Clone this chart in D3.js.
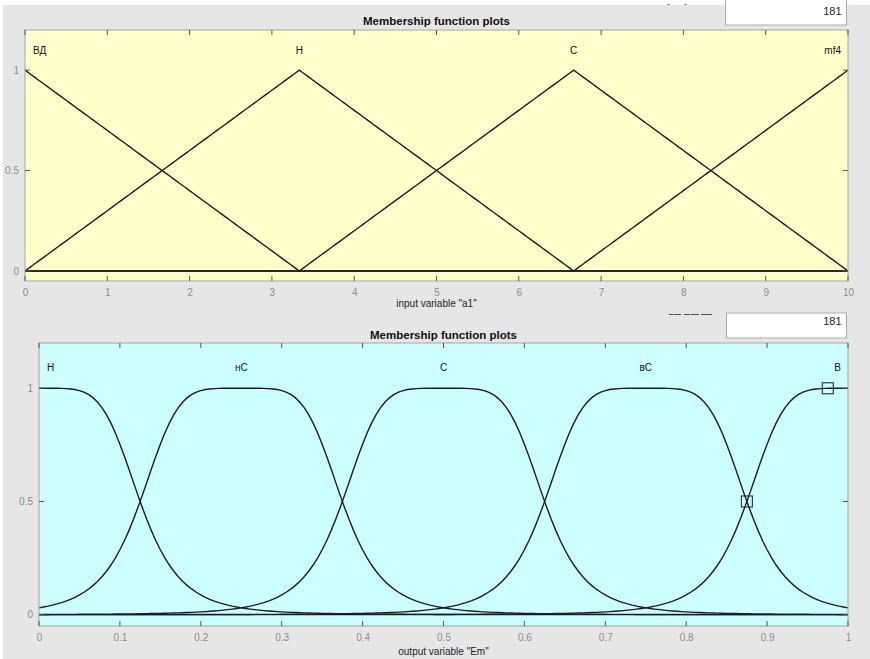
<!DOCTYPE html>
<html>
<head>
<meta charset="utf-8">
<script src="https://cdn.jsdelivr.net/npm/d3@7"></script>
<style>
html,body{margin:0;padding:0;background:#ffffff;}
svg{display:block;}
text{font-family:"Liberation Sans",Arial,Helvetica,sans-serif;}
</style>
</head>
<body>
<script>
// ---- data ----
const titleText = "Membership function plots";
const plotPoints = 181;
const yTicks = [0, 0.5, 1];
const yDomain = [-0.05, 1.2];

const inputLabel = 'input variable "a1"';
const inputRange = [0, 10];
const inputTicks = [0, 1, 2, 3, 4, 5, 6, 7, 8, 9, 10];
const inputMFNames = ["ВД", "Н", "С", "mf4"];
const inputMFParams = [[-3.333, 0, 3.333], [0, 3.333, 6.667], [3.333, 6.667, 10], [6.667, 10, 13.333]]; // trimf [a b c]

const outputLabel = 'output variable "Em"';
const outputRange = [0, 1];
const outputTicks = [0, 0.1, 0.2, 0.3, 0.4, 0.5, 0.6, 0.7, 0.8, 0.9, 1];
const outputMFNames = ["Н", "нС", "С", "вС", "В"];
const outputMFParams = [[0.125, 2.5, 0], [0.125, 2.5, 0.25], [0.125, 2.5, 0.5], [0.125, 2.5, 0.75], [0.125, 2.5, 1]]; // gbellmf [a b c]
const outputMarkers = [[0.975, 1], [0.875, 0.5]];

// ---- membership function definitions ----
function trimf(x, p) {
  const [a, b, c] = p;
  if (x <= a || x >= c) return 0;
  if (x <= b) return (x - a) / (b - a);
  return (c - x) / (c - b);
}
function gbellmf(x, p) {
  const [a, b, c] = p;
  return 1 / (1 + Math.pow(Math.abs((x - c) / a), 2 * b));
}

const W = 870, H = 659;
const svg = d3.select("body").append("svg").attr("width", W).attr("height", H);
svg.append("rect").attr("x", 0).attr("y", 0).attr("width", W).attr("height", H).attr("fill", "#ffffff");
svg.append("rect").attr("x", 3).attr("y", 5).attr("width", W - 3).attr("height", H - 5).attr("fill", "#e6e6e6");

function panel(cfg) {
  const g = svg.append("g");
  const x = d3.scaleLinear().domain(cfg.range).range([cfg.left, cfg.right]);
  const y = d3.scaleLinear().domain(yDomain).range([cfg.bottom, cfg.top]);

  // fragments of a hidden caption above the box (only the bottom edge shows)
  cfg.frags.forEach(f => {
    g.append("line").attr("x1", f[0]).attr("x2", f[1]).attr("y1", cfg.fragY).attr("y2", cfg.fragY)
      .attr("stroke", "#2a2a55").attr("stroke-width", 1).attr("opacity", 0.8);
  });
  // box widget "181"
  g.append("rect").attr("x", cfg.boxX).attr("y", cfg.boxY).attr("width", cfg.boxW).attr("height", cfg.boxH)
    .attr("fill", "#ffffff").attr("stroke", "#ababab").attr("stroke-width", 1);
  g.append("text").attr("x", cfg.boxX + cfg.boxW - 5).attr("y", cfg.boxTextY)
    .attr("text-anchor", "end").attr("font-size", 11).attr("fill", "#1a1a33").text(String(plotPoints));

  // title
  g.append("text").attr("x", (cfg.left + cfg.right) / 2).attr("y", cfg.titleY)
    .attr("text-anchor", "middle").attr("font-size", 11.5).attr("font-weight", "bold").attr("fill", "#111")
    .text(titleText);

  // plot background
  g.append("rect").attr("x", cfg.left).attr("y", cfg.top).attr("width", cfg.right - cfg.left)
    .attr("height", cfg.bottom - cfg.top).attr("fill", cfg.bg);

  // curves
  const xs = d3.range(plotPoints).map(i => cfg.range[0] + (cfg.range[1] - cfg.range[0]) * i / (plotPoints - 1));
  const line = d3.line().x(d => x(d[0])).y(d => y(d[1]));
  cfg.params.forEach(p => {
    const pts = xs.map(v => [v, cfg.fn(v, p)]);
    g.append("path").attr("d", line(pts)).attr("fill", "none")
      .attr("stroke", "#1c1c1c").attr("stroke-width", 1.4);
  });

  // markers
  (cfg.markers || []).forEach(m => {
    g.append("rect").attr("x", x(m[0]) - 5.5).attr("y", y(m[1]) - 5.5).attr("width", 11).attr("height", 11)
      .attr("fill", "none").attr("stroke", "#2a2a2a").attr("stroke-width", 1.1);
  });

  // MF labels
  cfg.names.forEach((n, i) => {
    const peak = cfg.peak(cfg.params[i]);
    let px = x(peak), anchor = "middle";
    if (peak <= cfg.range[0]) { px = cfg.left + 8; anchor = "start"; }
    else if (peak >= cfg.range[1]) { px = cfg.right - 7; anchor = "end"; }
    g.append("text").attr("x", px).attr("y", cfg.labelY).attr("text-anchor", anchor)
      .attr("font-size", 10).attr("fill", "#111").text(n);
  });

  // axes box
  g.append("rect").attr("x", cfg.left).attr("y", cfg.top).attr("width", cfg.right - cfg.left)
    .attr("height", cfg.bottom - cfg.top).attr("fill", "none").attr("stroke", "#a3a3a3").attr("stroke-width", 1);

  // x ticks (inward, top and bottom)
  cfg.ticks.forEach(t => {
    g.append("line").attr("x1", x(t)).attr("x2", x(t)).attr("y1", cfg.bottom).attr("y2", cfg.bottom - 5)
      .attr("stroke", "#555").attr("stroke-width", 1);
    g.append("line").attr("x1", x(t)).attr("x2", x(t)).attr("y1", cfg.top).attr("y2", cfg.top + 5)
      .attr("stroke", "#555").attr("stroke-width", 1);
  });
  const xb = d3.axisBottom(x).tickValues(cfg.ticks).tickSize(0).tickFormat(d3.format("~g")).tickPadding(0);
  const xa = g.append("g").attr("transform", `translate(0,${cfg.bottom + 8})`).call(xb);
  xa.select(".domain").remove();
  xa.selectAll("text").attr("font-size", 10).attr("fill", "#8c8c8c").attr("dy", "0.71em")
    .attr("font-family", '"Liberation Sans",Arial,sans-serif');

  // y ticks (inward, left and right)
  yTicks.forEach(t => {
    g.append("line").attr("x1", cfg.left).attr("x2", cfg.left + 5).attr("y1", y(t)).attr("y2", y(t))
      .attr("stroke", "#555").attr("stroke-width", 1);
    g.append("line").attr("x1", cfg.right).attr("x2", cfg.right - 5).attr("y1", y(t)).attr("y2", y(t))
      .attr("stroke", "#555").attr("stroke-width", 1);
  });
  const yl = d3.axisLeft(y).tickValues(yTicks).tickSize(0).tickPadding(6).tickFormat(d3.format("~g"));
  const ya = g.append("g").attr("transform", `translate(${cfg.left},0)`).call(yl);
  ya.select(".domain").remove();
  ya.selectAll("text").attr("font-size", 10).attr("fill", "#8c8c8c")
    .attr("font-family", '"Liberation Sans",Arial,sans-serif');

  // x label
  g.append("text").attr("x", (cfg.left + cfg.right) / 2).attr("y", cfg.xlabelY)
    .attr("text-anchor", "middle").attr("font-size", 10).attr("fill", "#222").text(cfg.xlabel);
}

panel({
  id: 1, range: inputRange, ticks: inputTicks, names: inputMFNames, params: inputMFParams,
  fn: trimf, peak: p => p[1], bg: "#ffffcc",
  left: 25, right: 848, top: 30, bottom: 281,
  titleY: 25, labelY: 54, xlabelY: 307,
  boxX: 725.5, boxY: -1, boxW: 121, boxH: 26, boxTextY: 15,
  frags: [[667.5, 669.5], [684.5, 686.5]], fragY: 4.5,
  xlabel: inputLabel
});

panel({
  id: 2, range: outputRange, ticks: outputTicks, names: outputMFNames, params: outputMFParams,
  fn: gbellmf, peak: p => p[2], bg: "#ccffff", markers: outputMarkers,
  left: 39, right: 848, top: 343, bottom: 626,
  titleY: 339, labelY: 371, xlabelY: 655,
  boxX: 726.5, boxY: 313, boxW: 120, boxH: 25, boxTextY: 325,
  frags: [[669, 673], [674, 681], [684, 690], [691, 699], [701, 712]], fragY: 314.5,
  xlabel: outputLabel
});
</script>
</body>
</html>
